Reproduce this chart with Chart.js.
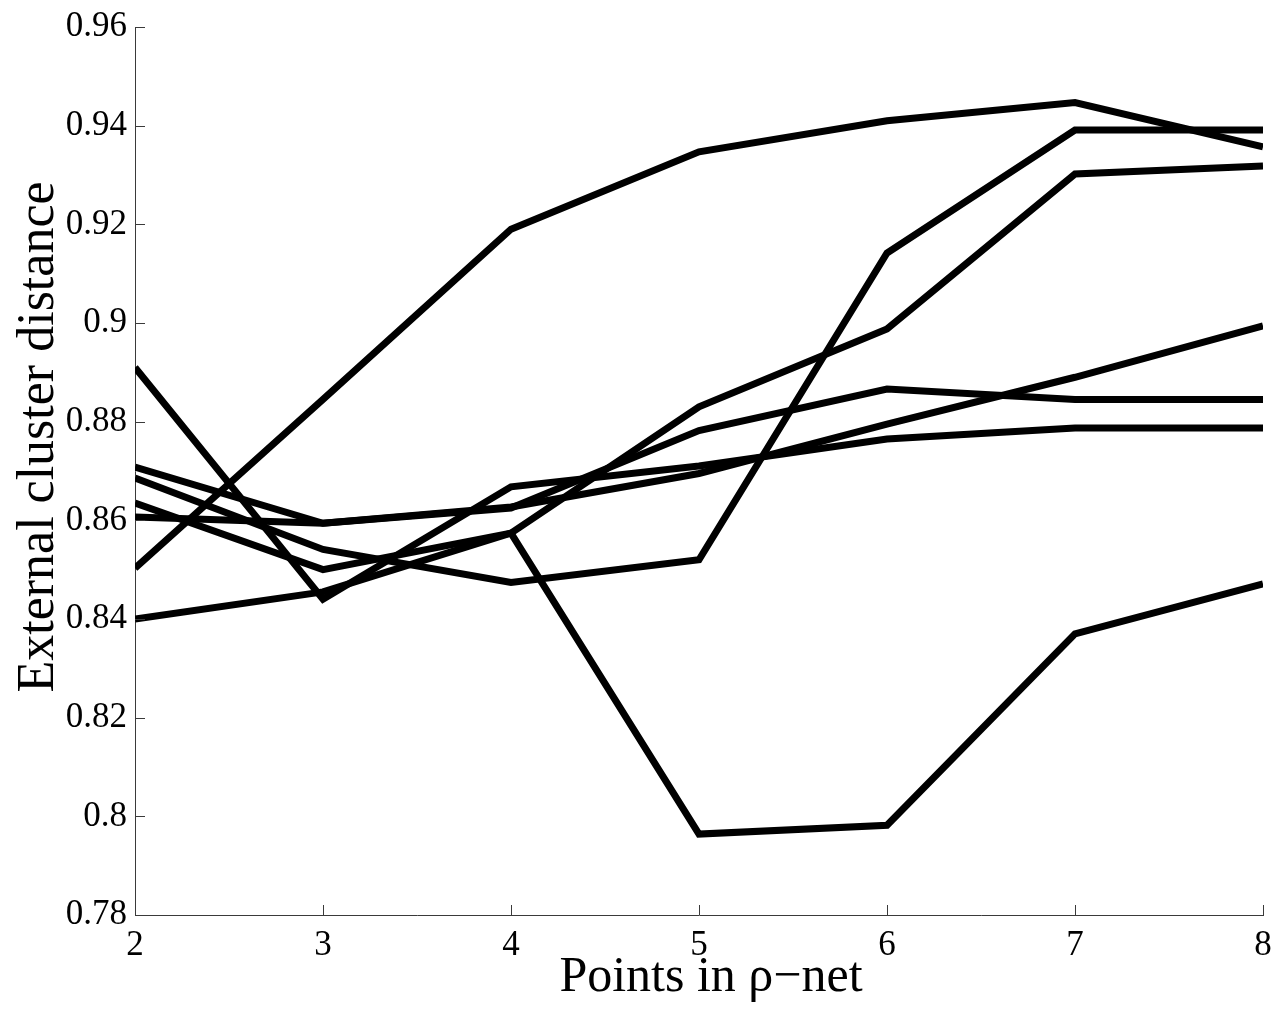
<!DOCTYPE html>
<html>
<head>
<meta charset="utf-8">
<title>External cluster distance</title>
<script src="https://cdn.jsdelivr.net/npm/chart.js@4.4.1/dist/chart.umd.min.js"></script>
<style>
  html, body { margin: 0; padding: 0; background: #fff; }
  canvas { display: block; }
</style>
</head>
<body>
<canvas id="chart" width="1275" height="1010"></canvas>
<script>
// points in the rho-net (x) and the measured distance for each run
const pointsInNet = [2, 3, 4, 5, 6, 7, 8];
const runA = [0.8503, 0.8845, 0.9190, 0.9347, 0.9410, 0.9447, 0.9357];
const runB = [0.8910, 0.8440, 0.8668, 0.8710, 0.8765, 0.8787, 0.8787];
const runC = [0.8708, 0.8594, 0.8627, 0.8695, 0.8795, 0.8890, 0.8994];
const runD = [0.8607, 0.8594, 0.8625, 0.8782, 0.8866, 0.8845, 0.8845];
const runE = [0.8686, 0.8541, 0.8474, 0.8520, 0.9142, 0.9391, 0.9391];
const runF = [0.8635, 0.8500, 0.8574, 0.7964, 0.7982, 0.8370, 0.8471];
const runG = [0.8400, 0.8455, 0.8574, 0.8830, 0.8988, 0.9302, 0.9318];

const xTicks = [2, 3, 4, 5, 6, 7, 8];
const yTicks = [0.78, 0.80, 0.82, 0.84, 0.86, 0.88, 0.90, 0.92, 0.94, 0.96];
const yTickLabels = ["0.78", "0.8", "0.82", "0.84", "0.86", "0.88", "0.9", "0.92", "0.94", "0.96"];

const xTitle = "Points in ρ−net";
const yTitle = "External cluster distance";

const runs = [runA, runB, runC, runD, runE, runF, runG];
const serif = "'Liberation Serif', 'Times New Roman', serif";
const axisColor = "#3a3a3a";

// matlab style tick marks that point into the plot
const innerTicks = {
  id: "innerTicks",
  afterDraw(chart) {
    const { ctx, chartArea, scales } = chart;
    const len = 10;
    ctx.save();
    ctx.strokeStyle = axisColor;
    ctx.lineWidth = 1;
    ctx.beginPath();
    scales.x.ticks.forEach((t) => {
      const px = Math.round(scales.x.getPixelForValue(t.value)) + 0.5;
      ctx.moveTo(px, chartArea.bottom);
      ctx.lineTo(px, chartArea.bottom - len);
    });
    scales.y.ticks.forEach((t) => {
      const py = Math.round(scales.y.getPixelForValue(t.value)) + 0.5;
      ctx.moveTo(chartArea.left, py);
      ctx.lineTo(chartArea.left + len, py);
    });
    ctx.stroke();
    ctx.restore();
  }
};

// axis titles, placed by hand so they sit where the old figure had them
const axisTitles = {
  id: "axisTitles",
  afterDraw(chart) {
    const { ctx, chartArea: a } = chart;
    ctx.save();
    ctx.fillStyle = "#000";
    ctx.textAlign = "center";
    ctx.textBaseline = "alphabetic";
    ctx.font = "50px " + serif;
    ctx.fillText(xTitle, (a.left + a.right) / 2 + 12, 991);
    ctx.font = "52px " + serif;
    ctx.translate(53, (a.top + a.bottom) / 2 - 34);
    ctx.rotate(-Math.PI / 2);
    ctx.fillText(yTitle, 0, 0);
    ctx.restore();
  }
};

const data = {
  datasets: runs.map((run) => ({
    data: run.map((v, i) => ({ x: pointsInNet[i], y: v })),
    borderColor: "#000",
    borderWidth: 7,
    borderJoinStyle: "miter",
    borderCapStyle: "butt",
    pointRadius: 0,
    tension: 0,
    fill: false
  }))
};

const config = {
  type: "line",
  data: data,
  plugins: [innerTicks, axisTitles],
  options: {
    responsive: false,
    animation: false,
    events: [],
    layout: {
      padding: { top: 27, right: 12, bottom: 0, left: 0 }
    },
    plugins: {
      legend: { display: false },
      tooltip: { enabled: false }
    },
    scales: {
      x: {
        type: "linear",
        min: 2,
        max: 8,
        afterBuildTicks: (scale) => {
          scale.ticks = xTicks.map((v) => ({ value: v }));
        },
        afterFit: (scale) => {
          scale.height = 95;
          scale.paddingLeft = 0;
          scale.paddingRight = 0;
        },
        grid: { display: false, drawTicks: false },
        border: { display: true, color: axisColor, width: 1 },
        ticks: {
          color: "#000",
          padding: 10,
          maxRotation: 0,
          font: { family: serif, size: 35 },
          callback: (value) => String(value)
        }
      },
      y: {
        type: "linear",
        min: 0.78,
        max: 0.96,
        afterBuildTicks: (scale) => {
          scale.ticks = yTicks.map((v) => ({ value: v }));
        },
        afterFit: (scale) => {
          scale.width = 135;
          scale.paddingTop = 0;
          scale.paddingBottom = 0;
        },
        grid: { display: false, drawTicks: false },
        border: { display: true, color: axisColor, width: 1 },
        ticks: {
          color: "#000",
          padding: 8,
          font: { family: serif, size: 35 },
          callback: (value, index) => yTickLabels[index]
        }
      }
    }
  }
};

const chart = new Chart(document.getElementById("chart"), config);
</script>
</body>
</html>
